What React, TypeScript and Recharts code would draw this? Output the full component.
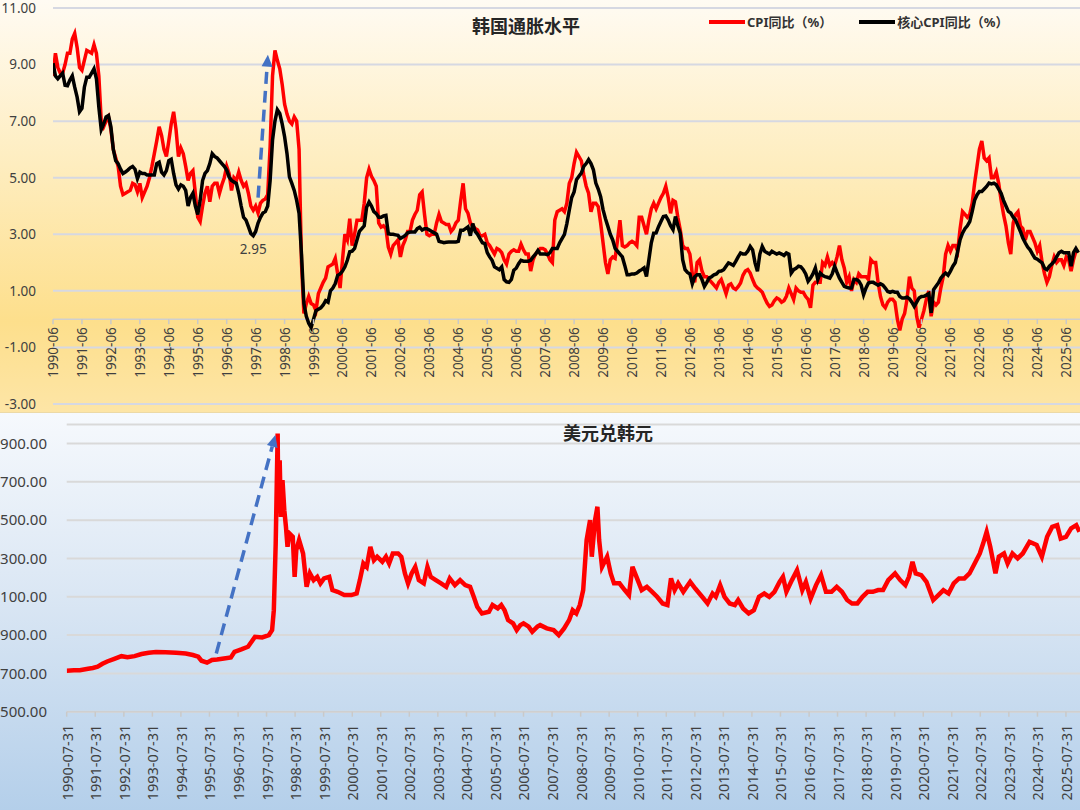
import React from "react";
import {
  LineChart,
  Line,
  XAxis,
  YAxis,
  CartesianGrid,
  ReferenceLine,
  ReferenceDot,
} from "recharts";

const FONT = '"Noto Sans", "Noto Sans CJK SC", sans-serif';

// 月度同比（%），1990-06 起，每行 12 个月（6 月 ~ 次年 5 月）
const cpiYoY = [
  8.6, 9.4, 8.9, 8.7, 8.7, 9.0, 9.4, 9.4, 9.9, 10.1, 9.6, 8.9,
  8.8, 9.15, 9.5, 9.45, 9.4, 9.7, 9.4, 8.6, 7.0, 6.8, 7.0, 7.15,
  6.7, 6.0, 5.7, 5.4, 4.7, 4.4, 4.45, 4.5, 4.55, 4.8, 4.75, 4.5,
  4.8, 4.3, 4.5, 4.7, 5.0, 5.4, 5.85, 6.3, 6.8, 6.5, 6.0, 5.75,
  6.3, 6.9, 7.33, 6.7, 5.75, 6.05, 5.85, 5.4, 4.9, 5.15, 5.25, 4.45,
  3.6, 3.45, 4.0, 4.45, 4.7, 4.15, 4.7, 4.8, 4.8, 4.45, 4.75, 5.0,
  5.4, 5.15, 4.55, 5.0, 4.9, 5.2, 4.9, 4.7, 4.8, 4.45, 4.0, 3.85,
  4.0, 3.75, 4.1, 4.2, 4.25, 4.4, 6.1, 8.6, 9.5, 9.15, 8.85, 8.3,
  7.6, 7.25, 7.0, 6.9, 7.15, 7.0, 6.0, 2.0, 0.2, 0.55, 0.8, 0.55,
  0.5, 0.3, 0.9, 1.1, 1.3, 1.45, 1.85, 1.9, 1.95, 2.15, 1.6, 1.1,
  2.1, 3.0, 2.8, 3.55, 2.6, 3.0, 3.5, 3.5, 3.5, 4.1, 5.0, 5.3,
  5.05, 4.9, 4.7, 3.4, 3.25, 3.3, 3.2, 2.55, 2.3, 2.6, 2.7, 2.8,
  2.2, 2.6, 2.8, 3.1, 3.1, 3.5, 3.7, 3.85, 4.4, 4.5, 3.7, 3.0,
  2.95, 3.0, 3.0, 3.4, 3.7, 3.45, 3.4, 3.35, 3.35, 3.1, 3.2, 3.4,
  3.5, 4.2, 4.8, 3.9, 3.75, 3.4, 3.3, 3.2, 3.15, 2.95, 2.95, 3.0,
  2.7, 2.6, 2.45, 2.3, 2.5, 2.45, 2.35, 2.1, 1.95, 2.3, 2.4, 2.45,
  2.4, 2.4, 2.65, 2.45, 2.3, 2.3, 1.7, 2.1, 2.3, 2.4, 2.5, 2.5,
  2.45, 2.3, 2.1, 2.0, 3.5, 3.8, 3.85, 3.9, 3.8, 4.1, 4.8, 5.0,
  5.5, 5.9, 5.75, 5.6, 5.1, 4.7, 4.45, 3.8, 4.1, 4.1, 3.98, 3.4,
  2.7, 2.0, 1.6, 2.1, 2.2, 2.15, 2.8, 3.5, 2.6, 2.55, 2.6, 2.7,
  2.75, 2.7, 2.6, 3.6, 3.6, 3.3, 3.0, 3.5, 3.9, 4.1, 3.9, 4.1,
  4.3, 4.45, 4.7, 4.3, 3.74, 4.2, 4.15, 3.6, 3.16, 2.6, 2.5, 2.5,
  2.3, 1.6, 1.3, 2.0, 2.1, 1.7, 1.5, 1.5, 1.4, 1.3, 1.2, 1.1,
  1.3, 1.4, 1.16, 0.9, 1.2, 1.25, 1.1, 1.05, 1.15, 1.28, 1.55, 1.7,
  1.75, 1.63, 1.4, 1.2, 1.1, 1.04, 0.95, 0.75, 0.57, 0.45, 0.5, 0.65,
  0.75, 0.7, 0.6, 0.65, 0.81, 1.1, 0.9, 0.69, 1.1, 1.0, 0.95, 0.95,
  0.8, 0.7, 0.4, 1.2, 1.3, 1.3, 1.3, 2.0, 1.9, 2.2, 1.9, 2.0,
  1.9, 2.2, 2.6, 2.1, 1.8, 1.3, 1.5, 1.0, 1.4, 1.3, 1.6, 1.5,
  1.5, 1.5, 1.4, 2.1, 2.0, 2.0, 1.3, 0.8, 0.5, 0.4, 0.6, 0.7,
  0.7, 0.6, 0.0, -0.4, 0.0, 0.2, 0.7, 1.5, 1.1, 1.0, 0.1, -0.3,
  0.0, 0.3, 0.7, 1.0, 0.1, 0.6, 0.5, 0.6, 1.1, 1.5, 2.3, 2.6,
  2.4, 2.6, 2.6, 2.4, 3.2, 3.8, 3.7, 3.6, 3.7, 4.1, 4.8, 5.4,
  6.0, 6.3, 5.7, 5.6, 5.7, 5.0, 5.0, 5.2, 4.8, 4.2, 3.7, 3.3,
  2.7, 2.3, 3.4, 3.7, 3.8, 3.3, 3.2, 2.8, 3.1, 3.1, 2.9, 2.7,
  2.4, 2.6, 2.0, 1.6, 1.3, 1.5, 1.9, 2.2, 2.0, 2.1, 2.1, 1.9,
  2.2, 2.1, 1.7, 2.1, 2.4, 2.4,
];

const coreCpiYoY = [
  9.05, 8.6, 8.5, 8.6, 8.7, 8.27, 8.25, 8.45, 8.6, 8.2, 7.85, 7.33,
  7.45, 8.2, 8.55, 8.55, 8.7, 8.85, 8.5, 7.5, 6.7, 6.9, 7.15, 7.2,
  6.8, 6.0, 5.6, 5.5, 5.3, 5.15, 5.2, 5.27, 5.35, 5.4, 5.3, 4.97,
  5.2, 5.15, 5.15, 5.1, 5.1, 5.1, 5.1, 5.5, 5.55, 5.2, 5.1, 5.25,
  5.6, 5.65, 5.15, 4.75, 4.6, 4.75, 4.7, 4.55, 4.0, 4.3, 4.45, 4.0,
  3.7, 4.2, 4.9, 5.15, 5.25, 5.5, 5.85, 5.75, 5.7, 5.6, 5.5, 5.4,
  5.27, 5.03, 4.9, 4.85, 4.8, 4.45, 4.0, 3.6, 3.5, 3.27, 3.03, 2.95,
  3.1, 3.4, 3.6, 3.75, 3.8, 4.0, 4.9, 6.33, 7.0, 7.4, 7.27, 6.9,
  6.45, 5.85, 5.03, 4.8, 4.55, 4.2, 3.74, 2.3, 0.55, 0.1, -0.15, -0.3,
  0.0, 0.3, 0.35, 0.4, 0.5, 0.65, 0.6, 1.0, 1.1, 1.26, 1.55, 1.6,
  1.7, 1.85, 2.08, 2.38, 2.4, 2.5, 2.8, 3.1, 3.2, 3.3, 3.96, 4.14,
  4.0, 3.8, 3.73, 3.6, 3.6, 3.65, 3.67, 3.02, 3.0, 3.0, 2.98, 2.96,
  2.85, 2.9, 2.96, 3.05, 3.08, 3.08, 3.08, 3.2, 3.25, 3.15, 3.2, 3.2,
  3.15, 3.1, 3.05, 3.0, 2.75, 2.73, 2.7, 2.72, 2.73, 2.73, 2.73, 2.73,
  2.75, 3.14, 3.14, 3.2, 3.26, 2.95, 3.38, 3.1, 3.0, 2.85, 2.7, 2.67,
  2.35, 2.2, 2.08, 1.85, 1.8, 1.75, 1.85, 1.4, 1.32, 1.3, 1.4, 1.73,
  1.8, 1.96, 2.08, 2.05, 2.05, 2.05, 2.08, 2.2, 2.3, 2.43, 2.3, 2.3,
  2.3, 2.28, 2.35, 2.5, 2.5, 2.5, 2.7, 2.85, 3.0, 3.38, 3.85, 4.3,
  4.5, 4.93, 5.05, 5.16, 5.4, 5.5, 5.64, 5.5, 5.28, 4.81, 4.6, 4.33,
  3.87, 3.55, 3.28, 3.0, 2.8, 2.5, 2.4, 2.3, 2.2, 1.9, 1.57, 1.57,
  1.6, 1.6, 1.63, 1.7, 1.75, 1.81, 1.51, 2.1, 2.7, 3.04, 3.05, 3.27,
  3.45, 3.63, 3.65, 3.5, 3.3, 3.16, 3.63, 3.3, 3.04, 2.1, 1.75, 1.65,
  1.6, 1.25, 1.5, 1.57, 1.57, 1.4, 1.16, 1.3, 1.46, 1.5, 1.57, 1.6,
  1.69, 1.7, 1.75, 1.87, 1.99, 1.95, 1.9, 2.04, 2.2, 2.34, 2.3, 2.3,
  2.4, 2.57, 2.45, 1.99, 1.69, 2.3, 2.57, 2.4, 2.35, 2.3, 2.4, 2.35,
  2.3, 2.34, 2.3, 2.25, 2.34, 2.3, 1.63, 1.75, 1.8, 1.87, 1.85, 1.75,
  1.6, 1.34, 1.45, 1.6, 1.81, 1.4, 1.63, 1.55, 1.5, 1.48, 1.45, 1.6,
  1.87, 1.65, 1.45, 1.3, 1.16, 1.12, 1.1, 1.1, 1.4, 1.4, 1.35, 1.2,
  0.86, 1.1, 1.28, 1.3, 1.3, 1.25, 1.2, 1.25, 1.2, 1.1, 0.98, 0.95,
  0.98, 0.95, 0.95, 0.8, 0.75, 0.75, 0.78, 0.72, 0.6, 0.45, 0.6, 0.75,
  0.8, 0.81, 0.85, 0.9, 0.22, 1.04, 1.16, 1.28, 1.45, 1.55, 1.63, 1.55,
  1.7, 1.87, 2.0, 2.4, 2.81, 3.04, 3.2, 3.3, 3.45, 3.8, 4.2, 4.39,
  4.51, 4.51, 4.6, 4.69, 4.81, 4.78, 4.81, 4.75, 4.6, 4.45, 4.2, 4.0,
  3.81, 3.75, 3.6, 3.51, 3.3, 3.1, 2.87, 2.7, 2.55, 2.45, 2.3, 2.16,
  2.12, 2.05, 1.99, 1.8, 1.75, 1.87, 1.95, 2.04, 2.2, 2.35, 2.4, 2.35,
  2.35, 2.35, 1.87, 2.35, 2.5, 2.35,
];

// 美元兑韩元（日期, 汇率）
const usdKrw: [string, number][] = [
  ["1990-07-31", 714], ["1990-10-31", 716], ["1991-01-15", 716], ["1991-04-30", 724],
  ["1991-06-30", 728], ["1991-08-31", 735], ["1991-10-31", 750], ["1991-12-31", 762],
  ["1992-03-31", 776], ["1992-06-30", 790], ["1992-09-15", 785], ["1992-12-15", 790],
  ["1993-03-15", 801], ["1993-06-15", 808], ["1993-09-15", 812], ["1994-01-15", 811],
  ["1994-05-31", 808], ["1994-09-30", 804], ["1994-12-31", 796], ["1995-03-10", 787],
  ["1995-04-20", 766], ["1995-06-30", 756], ["1995-09-01", 770], ["1995-11-05", 773],
  ["1996-02-01", 778], ["1996-04-30", 783], ["1996-06-15", 813], ["1996-09-10", 825],
  ["1996-12-05", 839], ["1997-03-05", 891], ["1997-06-05", 888], ["1997-08-30", 900],
  ["1997-10-10", 926], ["1997-11-01", 1030], ["1997-11-25", 1378], ["1997-12-20", 1952],
  ["1997-12-28", 1552], ["1998-01-15", 1813], ["1998-01-30", 1517], ["1998-02-20", 1709],
  ["1998-03-15", 1552], ["1998-04-05", 1465], ["1998-04-25", 1361], ["1998-05-20", 1430],
  ["1998-07-01", 1413], ["1998-07-25", 1204], ["1998-08-15", 1343], ["1998-09-20", 1396],
  ["1998-11-10", 1326], ["1998-12-25", 1152], ["1999-02-05", 1222], ["1999-03-25", 1187],
  ["1999-05-10", 1204], ["1999-06-20", 1170], ["1999-08-05", 1196], ["1999-10-10", 1204],
  ["1999-11-20", 1135], ["2000-01-25", 1126], ["2000-04-20", 1109], ["2000-07-20", 1109],
  ["2000-09-25", 1117], ["2000-11-05", 1187], ["2000-12-20", 1274], ["2001-02-01", 1256],
  ["2001-03-20", 1361], ["2001-05-05", 1291], ["2001-06-15", 1309], ["2001-08-20", 1283],
  ["2001-10-05", 1309], ["2001-11-15", 1274], ["2002-01-01", 1326], ["2002-03-10", 1326],
  ["2002-04-20", 1309], ["2002-06-05", 1222], ["2002-07-15", 1170], ["2002-08-30", 1222],
  ["2002-10-15", 1256], ["2002-11-30", 1187], ["2003-02-01", 1170], ["2003-03-20", 1256],
  ["2003-05-01", 1204], ["2003-07-05", 1187], ["2003-09-10", 1170], ["2003-11-15", 1152],
  ["2003-12-30", 1196], ["2004-03-05", 1161], ["2004-05-10", 1187], ["2004-07-15", 1161],
  ["2004-09-15", 1152], ["2004-11-01", 1100], ["2004-12-15", 1048], ["2005-02-15", 1013],
  ["2005-05-15", 1022], ["2005-06-30", 1057], ["2005-09-05", 1039], ["2005-10-20", 1057],
  ["2005-12-01", 1030], ["2006-01-15", 978], ["2006-03-20", 961], ["2006-05-05", 926],
  ["2006-06-20", 952], ["2006-07-31", 961], ["2006-10-05", 944], ["2006-11-20", 917],
  ["2007-01-25", 944], ["2007-03-01", 952], ["2007-05-25", 935], ["2007-08-20", 926],
  ["2007-10-25", 900], ["2008-01-01", 935], ["2008-03-05", 978], ["2008-04-20", 1030],
  ["2008-06-05", 1013], ["2008-07-20", 1057], ["2008-09-01", 1135], ["2008-10-15", 1396],
  ["2008-11-28", 1500], ["2008-12-20", 1309], ["2009-02-01", 1500], ["2009-03-03", 1570],
  ["2009-03-25", 1396], ["2009-05-01", 1256], ["2009-07-05", 1309], ["2009-08-20", 1222],
  ["2009-10-01", 1170], ["2009-12-10", 1170], ["2010-02-15", 1135], ["2010-04-10", 1109],
  ["2010-05-25", 1256], ["2010-07-15", 1204], ["2010-09-20", 1135], ["2010-11-25", 1152],
  ["2011-02-01", 1126], ["2011-04-05", 1100], ["2011-06-15", 1065], ["2011-08-15", 1057],
  ["2011-09-30", 1196], ["2011-11-15", 1135], ["2011-12-30", 1170], ["2012-03-05", 1126],
  ["2012-06-01", 1178], ["2012-08-05", 1143], ["2012-11-01", 1100], ["2013-01-10", 1065],
  ["2013-03-15", 1117], ["2013-04-25", 1100], ["2013-06-20", 1161], ["2013-08-15", 1100],
  ["2013-10-20", 1065], ["2013-12-25", 1057], ["2014-02-05", 1083], ["2014-04-10", 1039],
  ["2014-06-20", 1013], ["2014-08-25", 1030], ["2014-10-30", 1100], ["2015-01-05", 1117],
  ["2015-03-10", 1100], ["2015-05-15", 1126], ["2015-07-20", 1178], ["2015-09-01", 1204],
  ["2015-10-15", 1126], ["2015-12-25", 1187], ["2016-02-28", 1239], ["2016-05-05", 1135],
  ["2016-06-20", 1178], ["2016-08-20", 1091], ["2016-10-28", 1161], ["2017-01-01", 1213],
  ["2017-03-05", 1126], ["2017-05-15", 1126], ["2017-07-20", 1152], ["2017-09-25", 1126],
  ["2017-11-30", 1083], ["2018-02-01", 1065], ["2018-04-10", 1065], ["2018-06-15", 1100],
  ["2018-08-20", 1126], ["2018-10-25", 1126], ["2019-01-01", 1135], ["2019-03-05", 1135],
  ["2019-05-10", 1187], ["2019-08-05", 1222], ["2019-10-10", 1187], ["2019-12-15", 1161],
  ["2020-01-30", 1204], ["2020-03-15", 1283], ["2020-04-25", 1222], ["2020-07-05", 1213],
  ["2020-09-10", 1178], ["2020-12-05", 1083], ["2021-02-10", 1109], ["2021-04-15", 1135],
  ["2021-06-20", 1117], ["2021-08-25", 1170], ["2021-11-01", 1196], ["2022-01-08", 1196],
  ["2022-03-15", 1222], ["2022-05-20", 1274], ["2022-07-25", 1326], ["2022-09-05", 1378],
  ["2022-10-20", 1439], ["2022-12-05", 1361], ["2023-02-10", 1222], ["2023-03-25", 1309],
  ["2023-05-30", 1326], ["2023-07-15", 1274], ["2023-09-15", 1326], ["2023-11-20", 1300],
  ["2024-01-25", 1326], ["2024-04-20", 1387], ["2024-07-20", 1370], ["2024-09-25", 1309],
  ["2024-12-01", 1413], ["2025-02-05", 1465], ["2025-04-10", 1474], ["2025-05-25", 1404],
  ["2025-07-31", 1413], ["2025-10-05", 1457], ["2025-12-10", 1474], ["2026-01-20", 1439],
];

const cpiTicks = [-3, -1, 1, 3, 5, 7, 9, 11];
const fxTicks = [500, 700, 900, 1100, 1300, 1500, 1700, 1900];
const tickYears = Array.from({ length: 36 }, (_, k) => 1990 + k);
const legendItems = [
  { name: "CPI同比（%）", color: "#ff0000" },
  { name: "核心CPI同比（%）", color: "#000000" },
];

// 标注：2.95 低点与两条蓝色虚线箭头
const coreLowIndex = 83;
const cpiArrow = [{ x: 1997.5, y: 4.3 }, { x: 1997.84, y: 9.35 }];
const fxArrow = [{ x: 1995.82, y: 804 }, { x: 1997.89, y: 1945 }];

const monthT = (i: number) => 1990 + (5 + i) / 12;
const toYear = (s: string) => {
  const [y, m, d] = s.split("-").map(Number);
  return y + (Date.UTC(y, m - 1, d) - Date.UTC(y, 0, 0)) / 86400000 / 365;
};

const inflationData = cpiYoY.map((v, i) => ({ t: monthT(i), cpi: v, core: coreCpiYoY[i] }));
const fxData = usdKrw.map(([d, v]) => ({ t: toYear(d), fx: v }));

// layout
const W = 1080;
const TOP_H = 413;
const BOT_H = 397;
const TOP_M = { top: 8, right: 0, bottom: 8, left: 0 };
const TOP_XAXIS_H = 1;
const TOP_PLOT_H = TOP_H - TOP_M.top - TOP_M.bottom - TOP_XAXIS_H;
const Y_ZERO = TOP_M.top + (TOP_PLOT_H * 11) / 14;
const BOT_M = { top: 11.4, right: 0, bottom: 0, left: 0 };
const BOT_XAXIS_H = 98.3;
const BOT_AXIS_Y = BOT_H - BOT_XAXIS_H;

const topStart = monthT(0);
const topEnd = topStart + (W - 53) / 28.95;
const fxStart = toYear("1990-07-31");
const fxEnd = fxStart + (W - 66.7) / 28.55;

const TopTick = ({ x, payload }: any) => {
  const label = `${Math.round(payload.value - 5 / 12)}-06`;
  const ty = Y_ZERO + 8;
  return (
    <g>
      <line x1={x} x2={x} y1={Y_ZERO} y2={Y_ZERO + 5} stroke="#c9c9c9" strokeWidth={1.5} />
      <text
        x={x}
        y={ty}
        transform={`rotate(-90 ${x} ${ty})`}
        textAnchor="end"
        dominantBaseline="central"
        fontSize={13.5}
        fill="#404040"
        fontFamily={FONT}
      >
        {label}
      </text>
    </g>
  );
};

const FxTick = ({ x, payload }: any) => {
  const label = `${Math.floor(payload.value)}-07-31`;
  const ty = BOT_AXIS_Y + 13;
  return (
    <g>
      <line x1={x} x2={x} y1={BOT_AXIS_Y} y2={BOT_AXIS_Y + 5} stroke="#c9c9c9" strokeWidth={1.5} />
      <text
        x={x}
        y={ty}
        transform={`rotate(-90 ${x} ${ty})`}
        textAnchor="end"
        dominantBaseline="central"
        fontSize={14.5}
        fill="#404040"
        fontFamily={FONT}
      >
        {label}
      </text>
    </g>
  );
};

// the reference crops the thousands digit of these labels at its left edge
const fxTickLabel = (v: number) => (v % 1000).toFixed(2);

const Arrow = (props: any) => {
  const { x1, y1, x2, y2 } = props;
  const ang = Math.atan2(y2 - y1, x2 - x1);
  const len = 12;
  const half = 5.5;
  const bx = x2 - len * Math.cos(ang);
  const by = y2 - len * Math.sin(ang);
  const px = -Math.sin(ang) * half;
  const py = Math.cos(ang) * half;
  return (
    <g>
      <line x1={x1} y1={y1} x2={bx} y2={by} stroke="#4472c4" strokeWidth={3.5} strokeDasharray="12 7" />
      <polygon points={`${x2},${y2} ${bx + px},${by + py} ${bx - px},${by - py}`} fill="#4472c4" />
    </g>
  );
};

const titleStyle: React.CSSProperties = {
  position: "absolute",
  width: 240,
  textAlign: "center",
  fontFamily: '"Noto Sans CJK SC", sans-serif',
  fontSize: 18,
  fontWeight: 700,
  lineHeight: "20px",
  color: "#262626",
  pointerEvents: "none",
};

export default function App() {
  return (
    <div style={{ position: "absolute", left: 0, top: 0, width: W, height: 810, overflow: "hidden" }}>
      <div
        style={{
          position: "absolute",
          left: 0,
          top: 0,
          width: W,
          height: TOP_H,
          background: "linear-gradient(180deg, #fffbf3 0%, #feedbf 40%, #fddf8c 78%, #fde5a6 100%)",
          borderBottom: "1px solid #ecd9a6",
          boxSizing: "border-box",
        }}
      >
        <LineChart width={W} height={TOP_H} data={inflationData} margin={TOP_M}>
          <CartesianGrid vertical={false} stroke="#d6d8e2" strokeWidth={2} />
          <XAxis
            dataKey="t"
            type="number"
            domain={[topStart, topEnd]}
            allowDataOverflow
            ticks={tickYears.map((y) => y + 5 / 12)}
            interval={0}
            height={TOP_XAXIS_H}
            axisLine={false}
            tickLine={false}
            tick={(p: any) => <TopTick {...p} />}
          />
          <YAxis
            domain={[-3, 11]}
            ticks={cpiTicks}
            interval={0}
            width={53}
            axisLine={false}
            tickLine={false}
            tickSize={0}
            tickMargin={17}
            tickFormatter={(v: number) => v.toFixed(2)}
            tick={{ fontSize: 13.5, fill: "#404040", fontFamily: FONT }}
          />
          <ReferenceLine y={0} stroke="#cfcfcf" strokeWidth={1.5} />
          <Line
            name="CPI同比（%）"
            dataKey="cpi"
            type="linear"
            stroke="#ff0000"
            strokeWidth={3.5}
            dot={false}
            isAnimationActive={false}
          />
          <Line
            name="核心CPI同比（%）"
            dataKey="core"
            type="linear"
            stroke="#000000"
            strokeWidth={3.5}
            dot={false}
            isAnimationActive={false}
          />
          <ReferenceDot
            x={monthT(coreLowIndex)}
            y={coreCpiYoY[coreLowIndex]}
            r={0}
            fillOpacity={0}
            strokeOpacity={0}
            label={{
              value: coreCpiYoY[coreLowIndex].toFixed(2),
              position: "bottom",
              offset: 9,
              fontSize: 13.5,
              fill: "#404040",
              fontFamily: FONT,
            }}
          />
          <ReferenceLine segment={cpiArrow} ifOverflow="visible" shape={Arrow} />
        </LineChart>
        <div style={{ ...titleStyle, left: 526 - 120, top: 15 }}>韩国通胀水平</div>
        <div
          style={{
            position: "absolute",
            left: 709,
            top: 12,
            display: "flex",
            alignItems: "center",
            fontFamily: FONT,
            fontSize: 13,
            fontWeight: 700,
            color: "#333",
            whiteSpace: "nowrap",
          }}
        >
          {legendItems.map((it, k) => (
            <div key={it.name} style={{ display: "flex", alignItems: "center", marginRight: k === 0 ? 27 : 0 }}>
              <span style={{ display: "inline-block", width: 36, height: 4, background: it.color, marginRight: 2 }} />
              <span>{it.name}</span>
            </div>
          ))}
        </div>
      </div>

      <div
        style={{
          position: "absolute",
          left: 0,
          top: TOP_H,
          width: W,
          height: BOT_H,
          background: "linear-gradient(180deg, #f6f9fd 0%, #dbe7f4 45%, #b4cfea 100%)",
        }}
      >
        <LineChart width={W} height={BOT_H} data={fxData} margin={BOT_M}>
          <CartesianGrid vertical={false} stroke="#d9d9d9" strokeWidth={2} />
          <XAxis
            dataKey="t"
            type="number"
            domain={[fxStart, fxEnd]}
            allowDataOverflow
            ticks={tickYears.map((y) => toYear(`${y}-07-31`))}
            interval={0}
            height={BOT_XAXIS_H}
            axisLine={{ stroke: "#cfcfcf", strokeWidth: 1.5 }}
            tickLine={false}
            tick={(p: any) => <FxTick {...p} />}
          />
          <YAxis
            domain={[500, 2000]}
            ticks={fxTicks}
            interval={0}
            width={66.7}
            axisLine={false}
            tickLine={false}
            tickSize={0}
            tickMargin={19.7}
            tickFormatter={fxTickLabel}
            tick={{ fontSize: 15, fill: "#404040", fontFamily: FONT }}
          />
          <Line
            name="美元兑韩元"
            dataKey="fx"
            type="linear"
            stroke="#ff0000"
            strokeWidth={4.5}
            dot={false}
            isAnimationActive={false}
          />
          <ReferenceLine segment={fxArrow} ifOverflow="visible" shape={Arrow} />
        </LineChart>
        <div style={{ ...titleStyle, left: 608 - 120, top: 9 }}>美元兑韩元</div>
      </div>
    </div>
  );
}
